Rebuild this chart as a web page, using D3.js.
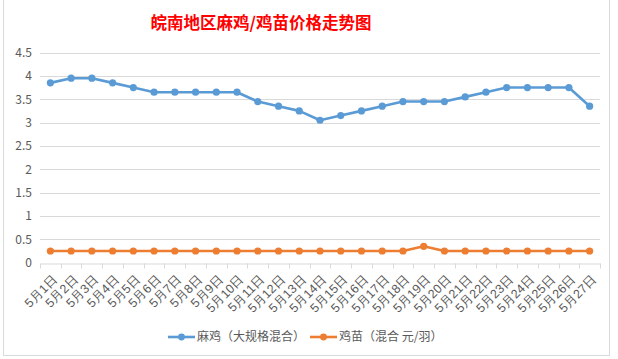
<!DOCTYPE html>
<html><head><meta charset="utf-8">
<script src="https://cdn.jsdelivr.net/npm/d3@7"></script>
<style>
body{margin:0;background:#fff;}
svg{display:block;font-family:"Noto Sans CJK SC","Microsoft YaHei",sans-serif;}
</style></head>
<body><svg id="c" width="618" height="359"></svg>
<script>
const categories = ["5月1日","5月2日","5月3日","5月4日","5月5日","5月6日","5月7日","5月8日","5月9日","5月10日","5月11日","5月12日","5月13日","5月14日","5月15日","5月16日","5月17日","5月18日","5月19日","5月20日","5月21日","5月22日","5月23日","5月24日","5月25日","5月26日","5月27日"];
const maji = [3.85,3.95,3.95,3.85,3.75,3.65,3.65,3.65,3.65,3.65,3.45,3.35,3.25,3.05,3.15,3.25,3.35,3.45,3.45,3.45,3.55,3.65,3.75,3.75,3.75,3.75,3.35];
const jimiao = [0.25,0.25,0.25,0.25,0.25,0.25,0.25,0.25,0.25,0.25,0.25,0.25,0.25,0.25,0.25,0.25,0.25,0.25,0.35,0.25,0.25,0.25,0.25,0.25,0.25,0.25,0.25];
const yTicks = [0,0.5,1,1.5,2,2.5,3,3.5,4,4.5];
const seriesNames = ["麻鸡（大规格混合）","鸡苗（混合 元/羽）"];
const title = "皖南地区麻鸡/鸡苗价格走势图";

const svg = d3.select("#c");
// chart border
svg.append("rect").attr("x",3.5).attr("y",-1).attr("width",606).attr("height",356.5)
  .attr("fill","#fff").attr("stroke","#d9d9d9");

const x = d3.scaleBand().domain(categories).range([40,600]);
const y = d3.scaleLinear().domain([0,4.5]).range([262.7,52.5]);

// gridlines
svg.append("g").selectAll("line").data(yTicks.filter(d=>d>0)).join("line")
  .attr("x1",40).attr("x2",600).attr("y1",d=>Math.round(y(d))+0.5).attr("y2",d=>Math.round(y(d))+0.5)
  .attr("stroke","#d9d9d9").attr("stroke-width",1);

// y axis labels
const ya = svg.append("g").attr("transform","translate(40,0)")
  .call(d3.axisLeft(y).tickValues(yTicks).tickSize(0).tickPadding(8).tickFormat(d3.format("")));
ya.select(".domain").remove();
ya.selectAll("text").attr("fill","#595959").style("font-size","12px")
  .style("font-family","'Noto Sans CJK SC',sans-serif");

// x axis
const xa = svg.append("g").attr("transform",`translate(0,${Math.round(y(0))+0.5})`)
  .call(d3.axisBottom(x).tickSize(0).tickFormat(""));
xa.select(".domain").attr("stroke","#d9d9d9");
// boundary ticks
const bounds = categories.map(c=>x(c)).concat([x.range()[1]]);
xa.append("g").selectAll("line").data(bounds).join("line")
  .attr("x1",d=>Math.round(d)+0.5).attr("x2",d=>Math.round(d)+0.5).attr("y1",0).attr("y2",5)
  .attr("stroke","#d9d9d9");
// labels
xa.append("g").selectAll("text").data(categories).join("text")
  .attr("transform",d=>`translate(${x(d)+x.bandwidth()/2+1},${10}) rotate(-45)`)
  .attr("text-anchor","end").attr("dy","0.75em")
  .attr("fill","#595959").style("font-size","12.5px").text(d=>d);

const line = d3.line().x((d,i)=>x(categories[i])+x.bandwidth()/2).y(d=>y(d));
const colors = ["#5b9bd5","#ed7d31"];
[maji, jimiao].forEach((s,k)=>{
  const g = svg.append("g");
  g.append("path").datum(s).attr("d",line).attr("fill","none")
    .attr("stroke",colors[k]).attr("stroke-width",2.6).attr("stroke-linejoin","round");
  g.selectAll("circle").data(s).join("circle")
    .attr("cx",(d,i)=>x(categories[i])+x.bandwidth()/2).attr("cy",d=>y(d))
    .attr("r",3.6).attr("fill",colors[k]);
});

// title
svg.append("text").attr("x",261).attr("y",29).attr("text-anchor","middle")
  .attr("fill","#ff0000").style("font-size","16.5px").style("font-weight","bold").text(title);

// legend
const legX = [168,310];
seriesNames.forEach((n,k)=>{
  const g = svg.append("g").attr("transform",`translate(${legX[k]},337)`);
  g.append("line").attr("x1",0).attr("x2",27).attr("y1",0).attr("y2",0)
    .attr("stroke",colors[k]).attr("stroke-width",2.6);
  g.append("circle").attr("cx",13.5).attr("cy",0).attr("r",3.4).attr("fill",colors[k]);
  g.append("text").attr("x",29).attr("y",0).attr("dy","0.35em")
    .attr("fill","#595959").style("font-size","12px").text(n);
});
</script></body></html>
